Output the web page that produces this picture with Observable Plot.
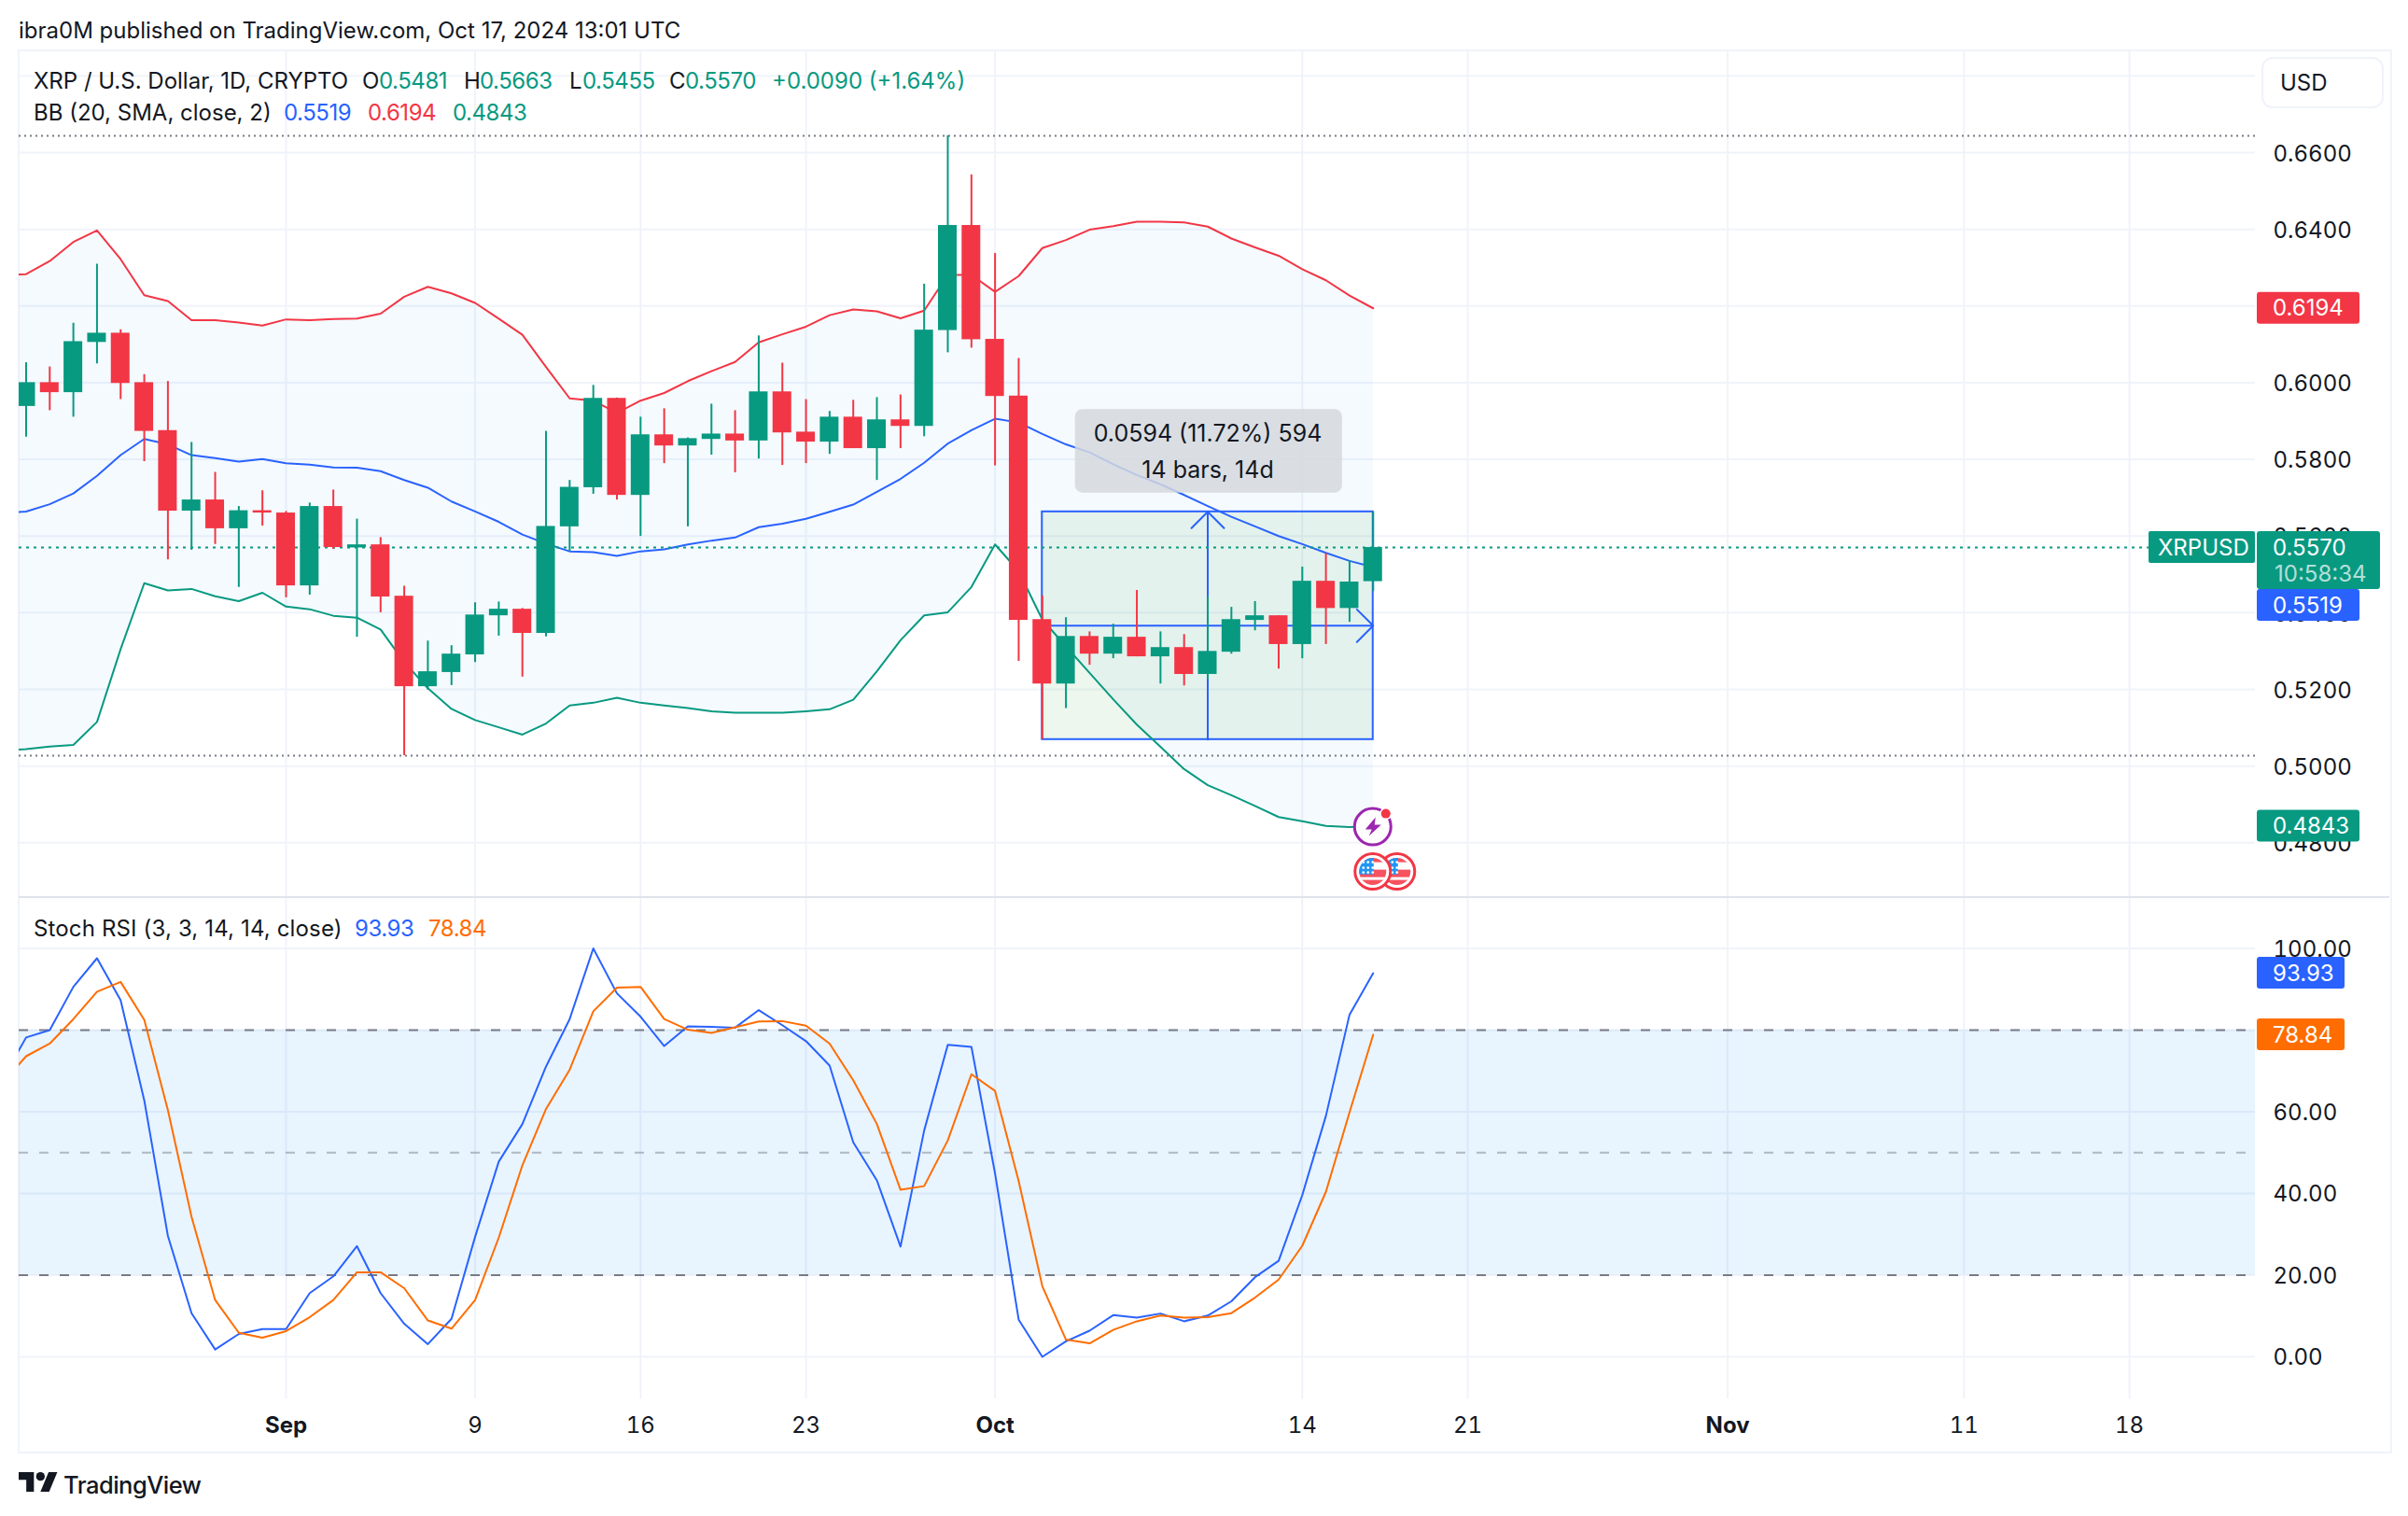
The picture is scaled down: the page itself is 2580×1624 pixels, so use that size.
<!DOCTYPE html>
<html><head><meta charset="utf-8">
<script src="https://cdn.jsdelivr.net/npm/d3@7"></script>
<script src="https://cdn.jsdelivr.net/npm/@observablehq/plot@0.6"></script>
<style>
html,body{margin:0;padding:0;background:#fff;width:2580px;height:1624px;overflow:hidden}
body{position:relative;font-family:Inter,sans-serif;color:#131722}
#price,#stoch{position:absolute;left:0}
#price{top:0}#stoch{top:961px}
#frame{position:absolute;left:19px;top:53px;width:2540px;height:1500px;border:2px solid #f0f3fa}
#sep{position:absolute;left:20px;width:2540px;top:960px;height:2px;background:#e0e3eb}
.t{position:absolute;white-space:nowrap;transform:translateY(calc(-50% + 1.5px));font-size:24px;line-height:30px;letter-spacing:0}
.n{letter-spacing:-.45px}
.g{color:#089981}.r{color:#f23645}.b{color:#2962ff}.o{color:#ff6d00}
#usd{position:absolute;left:2423px;top:61px;width:127px;height:51px;border:2px solid #f0f3fa;border-radius:12px;background:#fff}
svg{background:transparent}
</style></head><body>
<div id="frame"></div>
<div id="price"></div><div id="stoch"></div><div id="sep"></div>
<div class="t" style="left:20px;top:31px">ibra0M published on TradingView.com, Oct 17, 2024 13:01 UTC</div>
<div class="t" style="left:36px;top:85px">XRP / U.S. Dollar, 1D, CRYPTO</div>
<div class="t" style="left:388px;top:85px">O</div><div class="t g n" style="left:406px;top:85px">0.5481</div>
<div class="t" style="left:497px;top:85px">H</div><div class="t g n" style="left:514px;top:85px">0.5663</div>
<div class="t" style="left:610px;top:85px">L</div><div class="t g n" style="left:624px;top:85px">0.5455</div>
<div class="t" style="left:717px;top:85px">C</div><div class="t g n" style="left:734px;top:85px">0.5570</div>
<div class="t g" style="left:827px;top:85px">+0.0090 (+1.64%)</div>
<div class="t" style="left:36px;top:119px">BB (20, SMA, close, 2)</div>
<div class="t b n" style="left:304px;top:119px">0.5519</div><div class="t r n" style="left:394px;top:119px">0.6194</div><div class="t g n" style="left:485px;top:119px">0.4843</div>
<div id="usd"></div><div class="t" style="left:2443px;top:87px">USD</div>
<div class="t" style="left:36px;top:993px;letter-spacing:.15px">Stoch RSI (3, 3, 14, 14, close)</div>
<div class="t b n" style="left:380px;top:993px">93.93</div><div class="t o n" style="left:459px;top:993px">78.84</div>
<svg style="position:absolute;left:20px;top:1577px" width="42" height="21" viewBox="0 0 36 18"><path fill="#131722" d="M14 18H7V7H0V0h14v18zM28 18h-8L27.5 0h8L28 18z"/><circle fill="#131722" cx="20" cy="4" r="4"/></svg>
<div class="t" style="left:68px;top:1589px;font-size:25.5px;font-weight:500;letter-spacing:-.5px">TradingView</div>
<script>
// Candles, Aug 21 – Oct 17 2024
const open = [.5938,.6000,.5974,.6105,.6129,.6000,.5875,.5665,.5694,.5619,.5666,.5660,.5470,.5677,.5569,.5577,.5443,.5207,.5244,.5290,.5392,.5409,.5346,.5624,.5726,.5959,.5706,.5864,.5835,.5852,.5866,.5848,.5976,.5871,.5845,.5910,.5828,.5903,.5886,.6136,.6410,.6113,.5965,.5382,.5214,.5338,.5292,.5336,.5285,.5309,.5239,.5297,.5380,.5392,.5317,.5482,.5411,.5481];
const high = [.6052,.6041,.6155,.6309,.6138,.6021,.6003,.5844,.5766,.5677,.5718,.5664,.5686,.5720,.5644,.5596,.5469,.5326,.5314,.5426,.5428,.5411,.5873,.5745,.5993,.5960,.5910,.5932,.5856,.5944,.5927,.6122,.6051,.5956,.5925,.5954,.5961,.5968,.6257,.6644,.6542,.6337,.6063,.5444,.5387,.5350,.5370,.5458,.5350,.5343,.5441,.5414,.5429,.5392,.5519,.5554,.5536,.5663];
const low = [.5858,.5927,.5910,.6049,.5956,.5794,.5538,.5563,.5578,.5466,.5626,.5439,.5446,.5565,.5336,.5400,.5027,.5198,.5210,.5270,.5339,.5232,.5337,.5560,.5709,.5694,.5599,.5789,.5624,.5811,.5765,.5801,.5784,.5789,.5813,.5828,.5745,.5828,.5859,.6078,.6090,.5783,.5273,.5069,.5150,.5263,.5280,.5285,.5214,.5209,.5226,.5292,.5353,.5253,.5280,.5317,.5375,.5455];
const close = [.6000,.5974,.6107,.6129,.5998,.5873,.5665,.5694,.5619,.5666,.5660,.5470,.5677,.5570,.5577,.5441,.5207,.5246,.5292,.5394,.5409,.5346,.5625,.5727,.5959,.5706,.5864,.5835,.5854,.5866,.5848,.5976,.5869,.5845,.5910,.5828,.5903,.5886,.6137,.6410,.6112,.5964,.5380,.5214,.5338,.5292,.5336,.5285,.5309,.5239,.5299,.5382,.5392,.5317,.5482,.5411,.5480,.5570];
// Indicators, Aug 20 – Oct 17 2024
const bbUpper = [.6280,.6283,.6317,.6367,.6397,.6322,.6228,.6213,.6163,.6163,.6157,.6149,.6165,.6163,.6166,.6167,.6180,.6224,.6250,.6233,.6208,.6167,.6125,.6041,.5959,.5953,.5921,.5953,.5973,.6004,.6030,.6054,.6105,.6126,.6146,.6176,.6191,.6186,.6168,.6188,.6281,.6281,.6237,.6278,.6351,.6372,.6399,.6408,.6420,.6420,.6418,.6407,.6376,.6353,.6331,.6296,.6267,.6227,.6194];
const bbBasis = [.5660,.5664,.5683,.5711,.5757,.5811,.5853,.5839,.5811,.5803,.5794,.5801,.5790,.5786,.5779,.5778,.5769,.5746,.5726,.5690,.5664,.5637,.5604,.5580,.5560,.5558,.5548,.5560,.5565,.5578,.5588,.5596,.5623,.5632,.5645,.5663,.5682,.5715,.5749,.5791,.5841,.5876,.5906,.5896,.5866,.5839,.5818,.5787,.5759,.5735,.5707,.5678,.5650,.5625,.5600,.5579,.5556,.5535,.5519];
const bbLower = [.5040,.5044,.5051,.5055,.5115,.5305,.5477,.5458,.5462,.5443,.5430,.5452,.5416,.5409,.5392,.5387,.5356,.5271,.5203,.5149,.5120,.5101,.5082,.5111,.5158,.5165,.5178,.5165,.5158,.5151,.5143,.5139,.5139,.5139,.5143,.5148,.5173,.5247,.5328,.5393,.5401,.5467,.5578,.5508,.5382,.5312,.5243,.5174,.5108,.5050,.4992,.4950,.4924,.4896,.4867,.4856,.4844,.4841,.4843];
const stochK = [68,78.2,80.0,90.6,97.6,87.3,62.8,29.6,10.7,1.8,5.6,6.8,6.8,15.6,19.7,27.1,15.6,8.1,3.1,9.3,29.4,47.8,57.0,71.1,82.7,100,89.0,83.3,76.1,80.9,80.8,80.6,84.9,81.2,77.3,71.3,52.5,43.2,27.0,55.4,76.4,75.9,44.9,9.1,0,3.8,6.4,10.2,9.6,10.6,8.7,10.1,13.6,19.5,23.5,39.6,59.0,83.8,93.93];
const stochD = [67,73.6,76.7,82.7,89.4,91.8,82.5,60.4,34.3,13.9,5.9,4.7,6.3,9.7,13.9,20.7,20.7,16.8,8.9,6.9,13.9,29.2,46.9,60.7,70.3,84.6,90.4,90.6,82.7,80.1,79.3,80.7,82.1,82.2,81.1,76.7,67.7,57.0,40.9,41.8,53.0,69.2,65.1,43.0,17.3,4.2,3.3,6.6,8.7,10.1,9.6,9.7,10.7,14.5,18.9,27.2,40.4,59.9,78.84];
// Axis ticks
const priceTicks = [.48,.50,.52,.54,.56,.58,.60,.62,.64,.66];
const priceGrid = [.48,.50,.52,.54,.56,.58,.60,.62,.64,.66,.68];
const stochTicks = [0,20,40,60,80,100];
const monthTicks = [Date.UTC(2024,8,1),Date.UTC(2024,9,1),Date.UTC(2024,10,1)].map(d=>new Date(d));
const dayTicks = [[8,9],[8,16],[8,23],[9,14],[9,21],[10,11],[10,18]].map(([m,d])=>new Date(Date.UTC(2024,m,d)));
// Reference levels and measure tool
const highLevel = .6644, lowLevel = .5027, lastClose = .5570;
const measure = {top:.5663, bottom:.5069, mid:.5366};

const DAY = 864e5, SEP1 = Date.UTC(2024,8,1);
const at = n => new Date(SEP1 + n*DAY);
const xDomain = [at(-11.295), at(83.33)];
const days = d3.utcDay.range(new Date(Date.UTC(2024,7,20)), new Date(Date.UTC(2024,9,18)));
const lines = days.map((date,i)=>({date,upper:bbUpper[i],basis:bbBasis[i],lower:bbLower[i],k:stochK[i],d:stochD[i]}));
const candles = days.slice(1).map((date,i)=>({date,o:open[i],h:high[i],l:low[i],c:close[i]}));
const GREEN="#089981",RED="#f23645",BLUE="#2962ff",ORANGE="#ff6d00",GRID="#f0f3fa",TXT="#131722",GREY="#787b86";
const col = d => d.c>=d.o?GREEN:RED;
const oct3=new Date(Date.UTC(2024,9,3)),oct10=new Date(Date.UTC(2024,9,10)),oct17=new Date(Date.UTC(2024,9,17));

function tags(list){
  return (index,scales,values,dim)=>{
    const g=d3.create("svg:g").attr("font-family","Inter").attr("font-size",24).attr("text-anchor","start");
    const x0=dim.width-dim.marginRight;
    for(const t of list){
      const yc=scales.y(t.value)+(t.shift||0);
      g.append("rect").attr("x",x0+2).attr("y",yc-17).attr("width",t.w).attr("height",t.h||34).attr("rx",3).attr("fill",t.fill);
      g.append("text").attr("x",x0+19).attr("y",yc).attr("dy","0.36em").attr("fill","#fff").text(t.label);
      if(t.sub) g.append("text").attr("x",x0+21).attr("y",yc+28).attr("dy","0.36em").attr("fill","#fff").attr("fill-opacity",.7).text(t.sub);
      if(t.tab){
        g.append("rect").attr("x",x0-114).attr("y",yc-17).attr("width",114).attr("height",34).attr("rx",2).attr("fill",t.fill);
        g.append("text").attr("x",x0-104).attr("y",yc).attr("dy","0.36em").attr("fill","#fff").text(t.tab);
      }
    }
    return g.node();
  };
}
function icons(index,scales){
  const cx=scales.x(oct17), cy=scales.y(.4843);
  const g=d3.create("svg:g");
  const defs=g.append("defs");
  defs.append("clipPath").attr("id","flagclip").append("circle").attr("r",14.5);
  const flag=(dx,dy)=>{
    const f=g.append("g").attr("transform",`translate(${cx+dx},${cy+dy})`);
    f.append("circle").attr("r",19).attr("fill","#fff").attr("stroke",RED).attr("stroke-width",3);
    const c=f.append("g").attr("clip-path","url(#flagclip)");
    c.append("rect").attr("x",-16).attr("y",-2).attr("width",32).attr("height",8).attr("fill","#f7525f");
    c.append("rect").attr("x",-16).attr("y",9).attr("width",32).attr("height",8).attr("fill","#f7525f");
    c.append("rect").attr("x",-16).attr("y",-16).attr("width",32).attr("height",6).attr("fill","#f7525f");
    c.append("rect").attr("x",-16).attr("y",-16).attr("width",17).attr("height",19).attr("fill","#2196f3");
    for(const [a,b] of [[-10,-10],[-5,-10],[0,-10],[-10,-4],[-5,-4],[0,-4],[-10,1],[-5,1],[0,1]])
      c.append("circle").attr("cx",a).attr("cy",b).attr("r",1.4).attr("fill","#fff");
  };
  flag(26,49); flag(0,49);
  const e=g.append("g").attr("transform",`translate(${cx},${cy+1})`);
  e.append("circle").attr("r",19.5).attr("fill","#fff").attr("stroke","#9c27b0").attr("stroke-width",3);
  e.append("path").attr("d","M3-10 L-8 3 L-1 3 L-4 10 L9-2 L2-2 Z").attr("fill","#9c27b0");
  e.append("circle").attr("cx",14).attr("cy",-14).attr("r",6.5).attr("fill","#fff");
  e.append("circle").attr("cx",14).attr("cy",-14).attr("r",5).attr("fill",RED);
  return g.node();
}

const pricePlot = Plot.plot({
  width:2580,height:961,marginLeft:20,marginRight:164,marginTop:54,marginBottom:0,
  style:{fontFamily:"Inter",background:"transparent"},
  x:{type:"utc",domain:xDomain,axis:null},
  y:{domain:[.4657,.68654],axis:null},
  marks:[
    Plot.gridY(priceGrid,{stroke:GRID,strokeOpacity:1,strokeWidth:2}),
    Plot.gridX([...monthTicks,...dayTicks],{stroke:GRID,strokeOpacity:1,strokeWidth:2}),
    Plot.areaY(lines,{x:"date",y1:"lower",y2:"upper",fill:"#2196f3",fillOpacity:.05,clip:true}),
    Plot.rect([measure],{x1:()=>oct3,x2:()=>oct17,y1:"bottom",y2:"top",fill:"#4caf50",fillOpacity:.1,stroke:BLUE,strokeWidth:2}),
    Plot.arrow([measure],{x1:()=>oct10,x2:()=>oct10,y1:"bottom",y2:"top",stroke:BLUE,strokeWidth:2,headLength:18.5,headAngle:90}),
    Plot.arrow([measure],{x1:()=>oct3,x2:()=>oct17,y1:"mid",y2:"mid",stroke:BLUE,strokeWidth:2,headLength:18.5,headAngle:90}),
    Plot.line(lines,{x:"date",y:"upper",stroke:RED,strokeWidth:2,clip:true}),
    Plot.line(lines,{x:"date",y:"basis",stroke:BLUE,strokeWidth:2,clip:true}),
    Plot.line(lines,{x:"date",y:"lower",stroke:GREEN,strokeWidth:2,clip:true}),
    Plot.ruleY([highLevel,lowLevel],{stroke:GREY,strokeWidth:2,strokeDasharray:"2 4"}),
    Plot.ruleY([lastClose],{stroke:GREEN,strokeWidth:2,strokeDasharray:"3 5"}),
    Plot.ruleX(candles,{x:"date",y1:"l",y2:"h",stroke:col,strokeWidth:2,clip:true}),
    Plot.rect(candles,{x1:d=>new Date(+d.date-.395*DAY),x2:d=>new Date(+d.date+.395*DAY),y1:"o",y2:"c",fill:col,clip:true}),
    Plot.rect([{}],{x1:()=>at(33.4),x2:()=>at(44.7),y1:()=>.5712,y2:()=>.5930,fill:"#d5d8de",fillOpacity:.85,rx:8}),
    Plot.text(["0.0594 (11.72%) 594"],{x:()=>oct10,y:()=>.5867,text:d=>d,fontSize:25,fill:TXT}),
    Plot.text(["14 bars, 14d"],{x:()=>oct10,y:()=>.5770,text:d=>d,fontSize:25,fill:TXT}),
    icons,
    Plot.axisY(priceTicks,{anchor:"right",tickSize:0,tickPadding:19,tickFormat:d3.format(".4f"),fontSize:24,fill:TXT,label:null,dy:1.5}),
    tags([
      {value:.6194,label:"0.6194",fill:RED,w:110},
      {value:.5570,label:"0.5570",sub:"10:58:34",tab:"XRPUSD",fill:GREEN,w:132,h:62},
      {value:.5519,label:"0.5519",fill:BLUE,w:110,shift:41},
      {value:.4843,label:"0.4843",fill:GREEN,w:110}
    ])
  ]
});
document.getElementById("price").append(pricePlot);

const stochPlot = Plot.plot({
  width:2580,height:593,marginLeft:20,marginRight:164,marginTop:0,marginBottom:56,
  style:{fontFamily:"Inter",background:"transparent"},
  x:{type:"utc",domain:xDomain},
  y:{domain:[-10.29,112.46],axis:null},
  marks:[
    Plot.gridY(stochTicks,{stroke:GRID,strokeOpacity:1,strokeWidth:2}),
    Plot.gridX([...monthTicks,...dayTicks],{stroke:GRID,strokeOpacity:1,strokeWidth:2}),
    Plot.rect([{}],{x1:()=>xDomain[0],x2:()=>xDomain[1],y1:()=>20,y2:()=>80,fill:"#2196f3",fillOpacity:.1}),
    Plot.ruleY([80,20],{stroke:GREY,strokeWidth:2,strokeDasharray:"10 12"}),
    Plot.ruleY([50],{stroke:GREY,strokeOpacity:.5,strokeWidth:2,strokeDasharray:"10 12"}),
    Plot.line(lines,{x:"date",y:"k",stroke:BLUE,strokeWidth:2,clip:true}),
    Plot.line(lines,{x:"date",y:"d",stroke:ORANGE,strokeWidth:2,clip:true}),
    Plot.axisX(monthTicks,{anchor:"bottom",tickSize:0,tickPadding:19.5,tickFormat:d3.utcFormat("%b"),fontSize:24,fontWeight:700,fill:TXT,label:null}),
    Plot.axisX(dayTicks,{anchor:"bottom",tickSize:0,tickPadding:19.5,tickFormat:d3.utcFormat("%-d"),fontSize:24,fill:TXT,label:null}),
    Plot.axisY(stochTicks,{anchor:"right",tickSize:0,tickPadding:19,tickFormat:d3.format(".2f"),fontSize:24,fill:TXT,label:null,dy:1}),
    tags([
      {value:93.93,label:"93.93",fill:BLUE,w:94},
      {value:78.84,label:"78.84",fill:ORANGE,w:94}
    ])
  ]
});
document.getElementById("stoch").append(stochPlot);
</script>
</body></html>
